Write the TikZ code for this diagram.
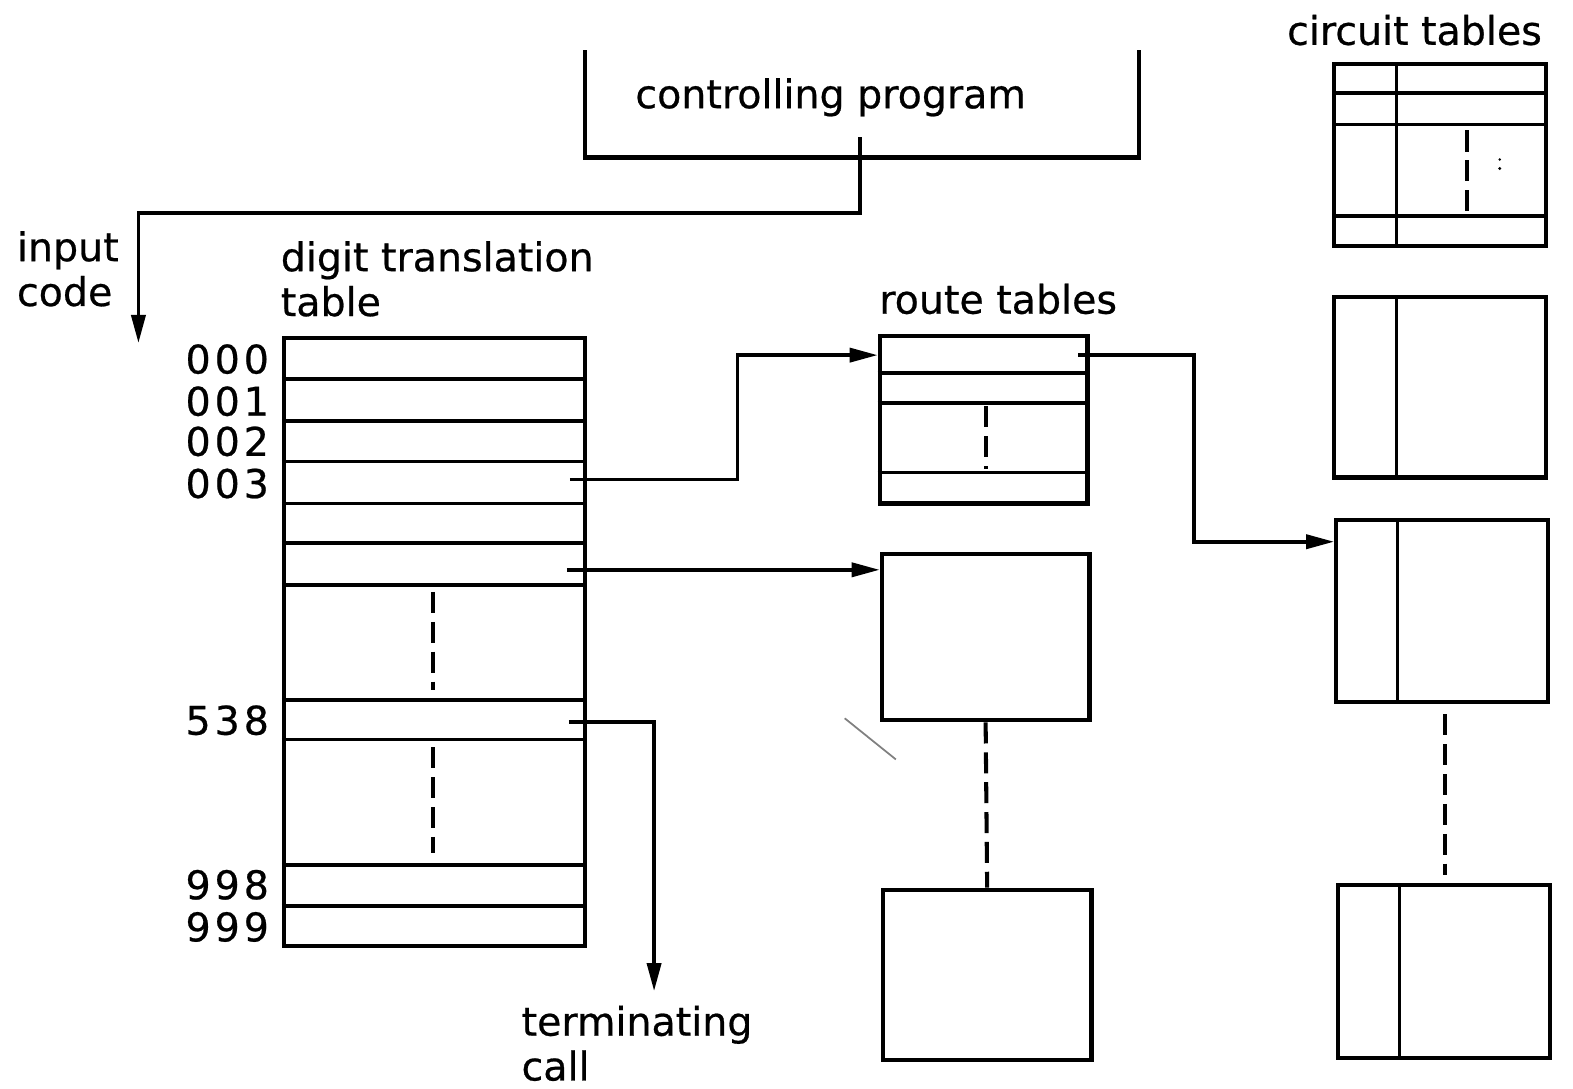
\documentclass[tikz,border=0pt]{standalone}
\usepackage{fontspec}
\setmainfont{DejaVu Sans}
\newfontfamily\lblfont{DejaVu Sans}[FakeBold=0.6]
\newfontfamily\numfont{DejaVu Sans}[FakeBold=0.6,LetterSpace=10]
\usetikzlibrary{arrows.meta,fit,calc}
\begin{document}
\begin{tikzpicture}[x=0.02007cm,y=-0.02007cm,
  line width=2.2pt,
  tbl/.style={draw, line width=2.4pt, inner sep=0pt, fit={#1}},
  lbl/.style={font=\lblfont\fontsize{22.5}{25.5}\selectfont, inner sep=0pt},
  num/.style={font=\numfont\fontsize{22.5}{25.5}\selectfont, inner sep=0pt, anchor=east},
  arr/.style={-{Triangle[length=16pt,width=8pt]}, line width=2.1pt},
  dsh/.style={dash pattern=on 12pt off 5pt, line width=2.3pt},
  rowline/.style={line width=2.1pt}
]
\useasboundingbox (0,0) rectangle (1568,1085);

% controlling program bracket
\node[lbl] (cp) at (828,97) {controlling program};
\draw[line width=2.3pt] (583,50) coordinate (cpl) -- (583,157) -- (1135,157) -- (1135,50) coordinate (cpr);
\coordinate (cpout) at (857,137);

% input code
\node[lbl, align=left, anchor=west] (inp) at (15,268) {input\\code};
\coordinate (inend) at (138,342);
\draw[arr] (cpout) -- (857,212) -| (inend);

% digit translation table
\node[lbl, align=left, anchor=west] (dtl) at (278,278) {digit translation\\table};
\node[tbl={(283,337) (583,943)}] (dt) {};
\foreach \y in {378,420,460,502,541,583,698,737,862,903}
  \draw[rowline] (dt.west |- 0,\y) -- (dt.east |- 0,\y);
\draw[dsh] (432,590) -- (432,688);
\draw[dsh] (432,745) -- (432,850);

\node[num] (n000) at (270,358) {000};
\node[num] (n001) at (270,400) {001};
\node[num] (n002) at (270,440) {002};
\node[num] (n003) at (270,482) {003};
\node[num] (n538) at (270,718) {538};
\node[num] (n998) at (270,882) {998};
\node[num] (n999) at (270,924) {999};

% route tables
\node[lbl] (rtl) at (995,298) {route tables};
\node[tbl={(877,335) (1084,502)}] (rt1) {};
\foreach \y in {372,402,471}
  \draw[rowline] (rt1.west |- 0,\y) -- (rt1.east |- 0,\y);
\draw[dsh] (983,405) -- (983,468);
\node[tbl={(879,552) (1086,718)}] (rt2) {};
\node[tbl={(880,887) (1088,1057)}] (rt3) {};
\draw[dsh] (rt2.south) -- (rt3.north);

% circuit tables
\node[lbl] (ctl) at (1410,30) {circuit tables};
\node[tbl={(1330,64) (1541,245)}] (ct1) {};
\draw[rowline] (1392,64) -- (1392,245);
\foreach \y in {93,124,215}
  \draw[rowline] (ct1.west |- 0,\y) -- (ct1.east |- 0,\y);
\draw[dsh] (1462,130) -- (1462,212);
\fill (1495,159) circle (1.3);
\fill (1495,168) circle (1.6);
\node[tbl={(1330,296) (1541,476)}] (ct2) {};
\draw[rowline] (1392,296) -- (1392,476);
\node[tbl={(1332,518) (1543,700)}] (ct3) {};
\draw[rowline] (1393,518) -- (1393,700);
\node[tbl={(1334,882) (1545,1055)}] (ct4) {};
\draw[rowline] (1395,882) -- (1395,1055);
\draw[dsh] (1440,712) -- (1440,872);

% connectors
\coordinate (r003) at (568,478);
\coordinate (r006) at (565,568);
\coordinate (r538) at (567,720);
\coordinate (rt1out) at (1075,354);
\draw[arr] (r003) -- (735,478) |- (rt1.west |- 0,354);
\draw[arr] (r006) -- (rt2.west |- r006);
\coordinate (tcend) at (652,988);
\draw[arr] (r538) -| (tcend);
\draw[arr] (rt1out) -- (1190,354) |- (ct3.west |- 0,540);

\node[lbl, align=left, anchor=west] (tcl) at (518,1040) {terminating\\call};

% stray mark
\draw[line width=1pt, gray] (842,716) -- (893,757);
\end{tikzpicture}
\end{document}
